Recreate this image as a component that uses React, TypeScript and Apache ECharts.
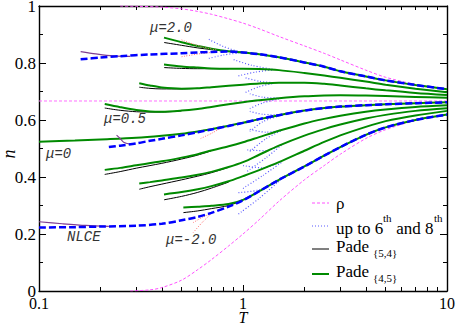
import React, { useEffect, useRef } from 'react';
import * as echarts from 'echarts';

type P = [number, number];

// ---------------- data: [T, n] ----------------
// mu = 2.0
const mu20Pade45: P[] = [[0.41,0.889],[0.5,0.873],[0.6,0.860],[0.7,0.850],[0.85,0.841],[1.0,0.837],[1.2,0.831],[1.5,0.820],[2,0.802],[2.5,0.787],[3,0.771],[4,0.753],[5,0.739],[7,0.723],[10,0.708]];
const mu20Pade54: P[] = [[0.41,0.872],[0.5,0.862],[0.6,0.853],[0.7,0.847],[0.85,0.840],[1.0,0.837]];
const mu20Nlce: P[] = [[0.16,0.813],[0.2,0.819],[0.25,0.824],[0.35,0.830],[0.5,0.834],[0.6,0.837],[0.7,0.839],[0.85,0.840],[1.0,0.837],[1.2,0.831],[1.5,0.820],[2,0.802],[2.5,0.787],[3,0.771],[4,0.753],[5,0.739],[7,0.723],[10,0.708]];
// mu = 1.5
const mu15Pade45: P[] = [[0.41,0.795],[0.5,0.788],[0.6,0.784],[0.7,0.781],[0.85,0.780],[1.0,0.780],[1.2,0.779],[1.5,0.775],[2,0.765],[2.5,0.756],[3,0.748],[4,0.735],[5,0.724],[7,0.710],[10,0.697]];
const mu15Pade54: P[] = [[0.41,0.784],[0.5,0.781],[0.6,0.780],[0.7,0.780],[0.85,0.780]];
// mu = 1.0
const mu10Pade45: P[] = [[0.31,0.729],[0.35,0.721],[0.4,0.714],[0.5,0.710],[0.6,0.711],[0.7,0.715],[0.85,0.720],[1.0,0.724],[1.2,0.728],[1.5,0.731],[2,0.731],[2.5,0.727],[3,0.721],[4,0.711],[5,0.704],[7,0.695],[10,0.688]];
const mu10Pade54: P[] = [[0.31,0.715],[0.35,0.711],[0.4,0.709],[0.5,0.709],[0.6,0.711]];
// mu = 0.5
const mu05Pade45: P[] = [[0.21,0.656],[0.25,0.645],[0.3,0.635],[0.35,0.630],[0.4,0.629],[0.5,0.633],[0.6,0.639],[0.7,0.646],[0.85,0.655],[1.0,0.662],[1.2,0.669],[1.5,0.676],[2,0.683],[2.5,0.686],[3,0.687],[4,0.686],[5,0.684],[7,0.681],[10,0.678]];
const mu05Pade54: P[] = [[0.21,0.642],[0.25,0.634],[0.3,0.629],[0.35,0.628],[0.4,0.628],[0.5,0.632]];
// mu = 0
const mu00Pade45: P[] = [[0.1,0.524],[0.15,0.528],[0.2,0.532],[0.3,0.538],[0.4,0.545],[0.5,0.552],[0.6,0.560],[0.7,0.568],[0.85,0.580],[1.0,0.590],[1.2,0.603],[1.5,0.617],[2,0.633],[2.5,0.642],[3,0.647],[4,0.652],[5,0.655],[7,0.659],[10,0.662]];
const mu00Nlce: P[] = [[0.22,0.505],[0.25,0.510],[0.3,0.518],[0.35,0.527],[0.4,0.534],[0.5,0.546],[0.6,0.557],[0.7,0.567],[0.85,0.579],[1.0,0.590],[1.2,0.603],[1.5,0.617],[2,0.633],[2.5,0.642],[3,0.647],[4,0.652],[5,0.655],[7,0.659],[10,0.662]];
// mu = -0.5
const mum05Pade45: P[] = [[0.21,0.425],[0.25,0.432],[0.3,0.441],[0.4,0.455],[0.5,0.468],[0.6,0.480],[0.7,0.493],[0.85,0.508],[1.0,0.522],[1.2,0.540],[1.5,0.562],[2,0.588],[2.5,0.604],[3,0.615],[4,0.629],[5,0.637],[7,0.646],[10,0.652]];
const mum05Pade54: P[] = [[0.21,0.409],[0.25,0.419],[0.3,0.431],[0.4,0.448],[0.5,0.463],[0.6,0.477],[0.7,0.492]];
// mu = -1.0
const mum10Pade45: P[] = [[0.31,0.377],[0.35,0.382],[0.4,0.388],[0.5,0.398],[0.6,0.408],[0.7,0.418],[0.85,0.435],[1.0,0.452],[1.2,0.478],[1.5,0.510],[2,0.545],[2.5,0.568],[3,0.584],[4,0.605],[5,0.618],[7,0.632],[10,0.641]];
const mum10Pade54: P[] = [[0.31,0.357],[0.35,0.366],[0.4,0.375],[0.5,0.390],[0.6,0.403],[0.7,0.415],[0.85,0.434]];
// mu = -1.5
const mum15Pade45: P[] = [[0.41,0.339],[0.5,0.347],[0.6,0.357],[0.7,0.368],[0.85,0.385],[1.0,0.403],[1.2,0.424],[1.5,0.452],[2,0.492],[2.5,0.523],[3,0.546],[4,0.576],[5,0.596],[7,0.616],[10,0.632]];
const mum15Pade54: P[] = [[0.41,0.320],[0.5,0.332],[0.6,0.346],[0.7,0.361],[0.85,0.382]];
// mu = -2.0
const mum20Pade45: P[] = [[0.51,0.293],[0.6,0.296],[0.7,0.299],[0.85,0.305],[1.0,0.320],[1.2,0.350],[1.5,0.390],[2,0.437],[2.5,0.475],[3,0.505],[4,0.548],[5,0.574],[7,0.600],[10,0.619]];
const mum20Pade54: P[] = [[0.51,0.275],[0.6,0.281],[0.7,0.289],[0.85,0.300],[1.0,0.318]];
const mum20Nlce: P[] = [[0.1,0.223],[0.15,0.224],[0.2,0.226],[0.3,0.229],[0.4,0.236],[0.5,0.248],[0.6,0.260],[0.7,0.274],[0.85,0.296],[1.0,0.318],[1.2,0.350],[1.5,0.390],[2,0.437],[2.5,0.475],[3,0.505],[4,0.548],[5,0.574],[7,0.600],[10,0.619]];

// rho curves
const rhoUpper: P[] = [[0.25,1.0],[0.3,0.999],[0.4,0.996],[0.5,0.990],[0.6,0.981],[0.7,0.971],[0.85,0.955],[1.0,0.940],[1.2,0.920],[1.5,0.893],[2,0.860],[2.5,0.834],[3,0.811],[4,0.775],[5,0.750],[7,0.725],[10,0.708]];
const rhoLower: P[] = [[0.28,0.0],[0.35,0.004],[0.4,0.012],[0.5,0.038],[0.6,0.075],[0.7,0.110],[0.85,0.158],[1.0,0.200],[1.2,0.250],[1.5,0.315],[2,0.390],[2.5,0.440],[3,0.480],[4,0.535],[5,0.566],[7,0.598],[10,0.619]];
const rhoInf: P[] = [[0.1,0.6667],[10,0.6667]];

// series expansions up to 6th and 8th order (pairs of branches)
const seriesBranches: P[][] = [
  [[0.68,0.883],[0.8,0.858],[0.97,0.838]], [[0.68,0.816],[0.8,0.828],[0.97,0.836]],
  [[0.9,0.812],[1.1,0.792],[1.4,0.778]], [[0.95,0.755],[1.15,0.768],[1.4,0.776]],
  [[1.03,0.748],[1.2,0.736],[1.4,0.731]], [[1.03,0.697],[1.2,0.717],[1.4,0.728]],
  [[1.08,0.692],[1.25,0.680],[1.5,0.677]], [[1.08,0.640],[1.25,0.660],[1.5,0.674]],
  [[1.08,0.630],[1.25,0.620],[1.5,0.618]], [[1.08,0.560],[1.25,0.594],[1.5,0.614]],
  [[1.08,0.567],[1.3,0.557],[1.55,0.565]], [[1.08,0.490],[1.3,0.535],[1.55,0.563]],
  [[1.05,0.495],[1.3,0.492],[1.55,0.515]], [[1.05,0.420],[1.3,0.468],[1.55,0.513]],
  [[1.0,0.440],[1.25,0.432],[1.55,0.455]], [[1.0,0.360],[1.25,0.405],[1.55,0.452]],
  [[0.95,0.345],[1.2,0.355],[1.5,0.388]], [[0.95,0.270],[1.2,0.325],[1.5,0.385]],
];
// NLCE lower orders (light red)
const nlceRedBranches: P[][] = [
  [[0.5,0.881],[0.62,0.858],[0.75,0.845]], [[0.5,0.822],[0.62,0.833],[0.75,0.839]],
  [[0.62,0.535],[0.7,0.553],[0.78,0.572]],
  [[0.57,0.205],[0.63,0.240],[0.7,0.272]], [[0.57,0.240],[0.63,0.258],[0.7,0.273]],
];
// NLCE other extrapolation (purple)
const nlcePurple: P[][] = [
  [[0.16,0.840],[0.19,0.832],[0.23,0.825],[0.28,0.823]],
  [[0.24,0.547],[0.25,0.535],[0.26,0.522],[0.28,0.515]],
  [[0.1,0.243],[0.13,0.236],[0.17,0.230],[0.22,0.227]],
];

const xMajor = [0.1, 1, 10];
const xMinor = [0.2,0.3,0.4,0.5,0.6,0.7,0.8,0.9,2,3,4,5,6,7,8,9];

const pade45 = [mu20Pade45, mu15Pade45, mu10Pade45, mu05Pade45, mu00Pade45, mum05Pade45, mum10Pade45, mum15Pade45, mum20Pade45];
const pade54 = [mu20Pade54, mu15Pade54, mu10Pade54, mu05Pade54, mum05Pade54, mum10Pade54, mum15Pade54, mum20Pade54];
const nlce = [mu20Nlce, mu00Nlce, mum20Nlce];

const SERIF = 'Liberation Serif';
const MONO = 'Liberation Mono';

function line(name: string, data: P[], color: string, width: number, type: any, smooth = 0.3) {
  return {
    type: 'line', name, data, xAxisIndex: 0, yAxisIndex: 0,
    symbol: 'none', showSymbol: false, smooth, silent: true, clip: true,
    lineStyle: { color, width, type, cap: 'butt' },
    emphasis: { disabled: true },
  };
}

function buildOption() {
  const series: any[] = [];
  series.push(line('ρ', rhoUpper, '#ff50ff', 1, [3, 2]));
  series.push(line('ρ', rhoLower, '#ff50ff', 1, [3, 2]));
  series.push(line('ρ', rhoInf, '#ff70ff', 1, [3, 2], 0));
  seriesBranches.forEach(b => series.push(line('up to 6th and 8th', b, '#5a5aff', 1.2, [1, 2])));
  pade54.forEach(d => series.push(line('Pade{5,4}', d, '#000000', 1, 'solid')));
  pade45.forEach(d => series.push(line('Pade{4,5}', d, '#008a00', 2, 'solid')));
  nlceRedBranches.forEach(b => series.push(line('NLCE low order', b, '#ff7070', 1, [1, 1.5])));
  nlcePurple.forEach(b => series.push(line('NLCE alt', b, '#803f90', 1.2, 'solid')));
  nlce.forEach(d => series.push(line('NLCE', d, '#0000ff', 2.5, [7, 3])));

  const xBase = { type: 'log', logBase: 10, min: 0.1, max: 10, gridIndex: 0, splitLine: { show: false } };
  const tickLine = { color: '#000', width: 1 };

  const txt = (text: string, x: number, y: number, font: string, fill = '#000', align = 'left') => ({
    type: 'text', x, y, silent: true,
    style: { text, fill, font, textAlign: align, textVerticalAlign: 'middle', align, verticalAlign: 'middle' },
  });
  const labelFont = `italic 14px ${MONO}`;
  const legFont = `17px ${SERIF}`;
  const subFont = `11px ${SERIF}`;
  const legLine = (y: number, stroke: string, w: number, dash: any) => ({
    type: 'line', silent: true, shape: { x1: 312, y1: y, x2: 329, y2: y },
    style: { stroke, lineWidth: w, lineDash: dash },
  });

  return {
    animation: false,
    backgroundColor: '#fff',
    grid: { left: 39, right: 10, top: 6, bottom: 33, containLabel: false, outerBoundsMode: 'none' },
    xAxis: [
      { ...xBase, position: 'bottom',
        axisLine: { show: true, lineStyle: { color: '#000', width: 1.4 } },
        axisTick: { show: true, inside: true, length: 6, customValues: xMajor, lineStyle: tickLine },
        axisLabel: { show: true, customValues: xMajor, margin: 4, fontFamily: SERIF, fontSize: 16, color: '#000',
          formatter: (v: number) => (v < 0.5 ? '0.1' : v < 5 ? '1' : '10') },
      },
      { ...xBase, position: 'bottom',
        axisLine: { show: false }, axisLabel: { show: false },
        axisTick: { show: true, inside: true, length: 4, customValues: xMinor, lineStyle: tickLine } },
      { ...xBase, position: 'top',
        axisLine: { show: true, lineStyle: { color: '#000', width: 1.4 } }, axisLabel: { show: false },
        axisTick: { show: true, inside: true, length: 6, customValues: xMajor, lineStyle: tickLine } },
      { ...xBase, position: 'top',
        axisLine: { show: false }, axisLabel: { show: false },
        axisTick: { show: true, inside: true, length: 4, customValues: xMinor, lineStyle: tickLine } },
    ],
    yAxis: [
      { type: 'value', min: 0, max: 1, interval: 0.2, position: 'left', splitLine: { show: false },
        axisLine: { show: true, lineStyle: { color: '#000', width: 1.4 } },
        axisTick: { show: true, inside: true, length: 7, lineStyle: tickLine },
        minorTick: { show: true, splitNumber: 2, length: 4, lineStyle: tickLine },
        axisLabel: { show: true, margin: 3, fontFamily: SERIF, fontSize: 17, color: '#000' },
      },
      { type: 'value', min: 0, max: 1, interval: 0.2, position: 'right', splitLine: { show: false },
        axisLine: { show: true, lineStyle: { color: '#000', width: 1.4 } },
        axisTick: { show: true, inside: true, length: 7, lineStyle: tickLine },
        minorTick: { show: true, splitNumber: 2, length: 4, lineStyle: tickLine },
        axisLabel: { show: false },
      },
    ],
    series,
    graphic: [
      // axis titles
      { type: 'text', x: 9, y: 154, rotation: Math.PI / 2, silent: true,
        style: { text: 'n', fill: '#000', font: `italic 18px ${SERIF}`, textAlign: 'center', textVerticalAlign: 'middle', align: 'center', verticalAlign: 'middle' } },
      txt('T', 243, 317, `italic 16px ${SERIF}`, '#000', 'center'),
      txt('μ=2.0', 150, 28, labelFont, '#333'),
      txt('μ=0.5', 104, 119, labelFont, '#333'),
      txt('μ=0', 46, 154, labelFont, '#333'),
      txt('NLCE', 67, 237, labelFont, '#333'),
      txt('μ=-2.0', 166, 240, labelFont, '#333'),
      legLine(203, '#ff50ff', 1, [3, 2]),
      legLine(226, '#5a5aff', 1.2, [1, 2]),
      legLine(249, '#000', 1, null),
      legLine(274, '#008a00', 2, null),
      txt('ρ', 336, 203, legFont),
      txt('up to 6', 336, 228, legFont),
      txt('th', 383, 218, subFont),
      txt(' and 8', 392, 228, legFont),
      txt('th', 434, 218, subFont),
      txt('Pade', 336, 246, legFont),
      txt('{5,4}', 373, 253, subFont),
      txt('Pade', 336, 271, legFont),
      txt('{4,5}', 373, 278, subFont),
    ],
  };
}

export default function App() {
  const ref = useRef<HTMLDivElement>(null);
  useEffect(() => {
    if (!ref.current) return;
    const chart = echarts.init(ref.current, null, { renderer: 'svg' });
    chart.setOption(buildOption() as any);
    return () => chart.dispose();
  }, []);
  return <div ref={ref} style={{ position: 'fixed', left: 0, top: 0, width: 457, height: 324 }} />;
}
